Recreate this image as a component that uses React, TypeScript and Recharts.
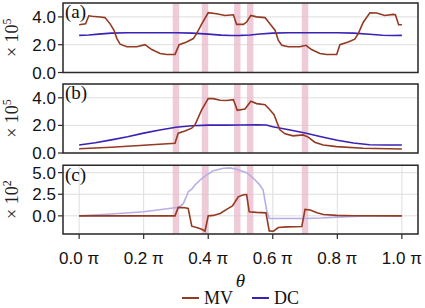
import { LineChart, Line, XAxis, YAxis, CartesianGrid, ReferenceArea, Legend } from "recharts";

// theta in units of pi
const xTicks = [0, 0.2, 0.4, 0.6, 0.8, 1.0];
const bandStarts = [0.29, 0.38, 0.48, 0.52, 0.69];
const bandEnds = [0.31, 0.4, 0.5, 0.54, 0.71];

// panel (a), x 10^5
const aMvTheta = [0, 0.02, 0.03, 0.04, 0.065, 0.08, 0.096, 0.108, 0.117, 0.127, 0.148, 0.179, 0.204, 0.225, 0.251, 0.272, 0.297, 0.31, 0.333, 0.354, 0.364, 0.38, 0.4, 0.426, 0.452, 0.478, 0.488, 0.509, 0.519, 0.532, 0.55, 0.576, 0.591, 0.607, 0.617, 0.628, 0.648, 0.684, 0.703, 0.72, 0.746, 0.767, 0.798, 0.808, 0.834, 0.854, 0.865, 0.88, 0.901, 0.922, 0.947, 0.973, 0.98, 0.99, 1.0];
const aMvValue = [3.44, 3.5, 4.08, 4.05, 3.99, 3.95, 3.5, 3.04, 2.44, 2.04, 1.85, 1.85, 2.0, 1.65, 1.37, 1.3, 1.3, 2.0, 2.2, 2.44, 2.8, 3.5, 4.3, 4.23, 4.1, 4.15, 3.46, 3.46, 3.63, 4.1, 4.0, 3.95, 3.5, 3.04, 2.32, 1.96, 1.85, 1.85, 1.96, 1.65, 1.37, 1.3, 1.3, 2.0, 2.2, 2.4, 2.8, 3.6, 4.3, 4.28, 4.1, 4.18, 4.15, 3.44, 3.44];
const aDcTheta = [0, 0.03, 0.06, 0.1, 0.15, 0.3, 0.35, 0.4, 0.44, 0.47, 0.5, 0.53, 0.56, 0.6, 0.65, 0.8, 0.85, 0.9, 0.94, 0.97, 1.0];
const aDcValue = [2.67, 2.7, 2.76, 2.83, 2.86, 2.86, 2.83, 2.76, 2.69, 2.66, 2.67, 2.7, 2.77, 2.83, 2.86, 2.86, 2.83, 2.75, 2.68, 2.66, 2.67];

// panel (b), x 10^5
const bMvTheta = [0, 0.1, 0.2, 0.297, 0.307, 0.328, 0.349, 0.359, 0.38, 0.4, 0.416, 0.437, 0.457, 0.478, 0.49, 0.514, 0.532, 0.55, 0.576, 0.591, 0.604, 0.612, 0.622, 0.638, 0.663, 0.694, 0.71, 0.73, 0.756, 0.798, 0.88, 1.0];
const bMvValue = [0.31, 0.42, 0.56, 0.71, 1.44, 1.6, 1.8, 2.04, 3.14, 3.94, 3.94, 3.82, 3.8, 3.87, 3.09, 3.19, 3.75, 3.58, 3.5, 3.14, 2.77, 2.28, 1.68, 1.39, 1.24, 1.31, 1.15, 0.78, 0.58, 0.46, 0.34, 0.29];
const bDcTheta = [0, 0.05, 0.1, 0.15, 0.2, 0.25, 0.3, 0.35, 0.4, 0.45, 0.5, 0.55, 0.58, 0.6, 0.65, 0.7, 0.75, 0.8, 0.85, 0.9, 0.95, 1.0];
const bDcValue = [0.58, 0.74, 0.95, 1.18, 1.44, 1.67, 1.87, 1.98, 2.02, 2.02, 2.03, 2.04, 2.03, 1.9, 1.68, 1.45, 1.18, 0.92, 0.73, 0.6, 0.58, 0.58];

// panel (c), x 10^2
const cMvTheta = [0, 0.297, 0.307, 0.328, 0.338, 0.349, 0.364, 0.38, 0.39, 0.4, 0.416, 0.437, 0.462, 0.475, 0.483, 0.493, 0.509, 0.519, 0.527, 0.55, 0.579, 0.589, 0.602, 0.617, 0.643, 0.69, 0.7, 0.716, 0.737, 0.757, 0.798, 0.85, 1.0];
const cMvValue = [0, 0, 0.98, 0.93, 0.85, -1.2, -1.35, -1.55, -1.78, 0, 0.05, 0.28, 0.86, 1.15, 1.6, 2.2, 2.44, 2.46, 0.47, 0.4, 0.35, -1.74, -1.78, -1.35, -1.28, -1.24, 0.74, 0.67, 0.35, 0.16, 0.05, 0.02, 0];
const cDcTheta = [0, 0.1, 0.2, 0.297, 0.31, 0.323, 0.333, 0.338, 0.349, 0.359, 0.375, 0.395, 0.416, 0.447, 0.468, 0.488, 0.519, 0.54, 0.56, 0.57, 0.581, 0.589, 0.65, 0.7, 0.75, 0.8, 0.85, 0.9, 1.0];
const cDcValue = [0, 0.22, 0.47, 0.93, 1.0, 1.44, 2.3, 2.8, 3.1, 3.57, 4.15, 4.73, 5.23, 5.5, 5.55, 5.4, 5.0, 4.35, 3.57, 3.0, 0.66, -0.3, -0.3, -0.3, -0.25, -0.15, -0.06, -0.02, 0];

const MV_COLOR = "#923a22";
const DC_COLOR = "#3a22b4";
const DC_LIGHT = "#b7ade6";
const BAND = "#e9b9cc";
const FRAME = "#2b2b2b";
const SANS = "Liberation Sans";
const SERIF = "Liberation Serif";

const toRows = (xs: number[], ys: number[]) => xs.map((x, i) => ({ x, y: ys[i] }));

const ExpLabel = ({ viewBox, exp }: any) => {
	const cx = 18;
	const cy = viewBox.y + viewBox.height / 2;
	return (
		<text
			transform={`translate(${cx},${cy}) rotate(-90)`}
			textAnchor="middle"
			fontFamily={SERIF}
			fontSize={18}
			fill="#222">
			<tspan>× 10</tspan>
			<tspan dy={-7} fontSize={12}>
				{exp}
			</tspan>
		</text>
	);
};

const ThetaLabel = ({ viewBox }: any) => (
	<text
		x={viewBox.x + viewBox.width / 2}
		y={viewBox.y + 53}
		textAnchor="middle"
		fontFamily={SERIF}
		fontStyle="italic"
		fontSize={19}
		fill="#111">
		θ
	</text>
);

const LegendBox = () => (
	<div
		style={{
			height: 20,
			width: "100%",
			display: "flex",
			justifyContent: "center",
			alignItems: "center",
			paddingLeft: 56,
			boxSizing: "border-box",
			fontFamily: SERIF,
			fontSize: 18,
			lineHeight: "20px",
			color: "#111",
		}}>
		<span style={{ display: "inline-block", width: 17, height: 2, background: MV_COLOR, marginRight: 5 }} />
		<span style={{ marginRight: 19 }}>MV</span>
		<span style={{ display: "inline-block", width: 17, height: 2, background: DC_COLOR, marginRight: 5 }} />
		<span>DC</span>
	</div>
);

interface PanelProps {
	tag: string;
	exp: string;
	mv: { x: number; y: number }[];
	dc: { x: number; y: number }[];
	dcColor: string;
	yDomain: [number, number];
	yTicks: number[];
	height: number;
	margin: { top: number; right: number; bottom: number; left: number };
	bottomAxis?: boolean;
}

const Panel = ({ tag, exp, mv, dc, dcColor, yDomain, yTicks, height, margin, bottomAxis }: PanelProps) => (
	<LineChart width={425} height={height} margin={margin}>
		<CartesianGrid stroke="#dedede" strokeWidth={1} />
		<XAxis
			dataKey="x"
			type="number"
			domain={[-0.05, 1.05]}
			ticks={xTicks}
			interval={0}
			allowDataOverflow
			height={bottomAxis ? 54 : 0}
			tick={bottomAxis ? { fontSize: 17, fill: "#111", fontFamily: SANS } : false}
			tickLine={bottomAxis ? { stroke: FRAME, strokeWidth: 1.2 } : false}
			tickSize={5}
			tickMargin={13}
			axisLine={false}
			tickFormatter={(v: number) => `${v.toFixed(1)} π`}
			label={bottomAxis ? <ThetaLabel /> : undefined}
		/>
		<YAxis
			type="number"
			domain={yDomain}
			ticks={yTicks}
			interval={0}
			allowDataOverflow
			width={63}
			axisLine={false}
			tickLine={{ stroke: FRAME, strokeWidth: 1.2 }}
			tickSize={5}
			tickMargin={2}
			tick={{ fontSize: 17, fill: "#111", fontFamily: SANS }}
			tickFormatter={(v: number) => v.toFixed(1)}
			label={<ExpLabel exp={exp} />}
		/>
		{bandStarts.map((s, i) => (
			<ReferenceArea key={i} x1={s} x2={bandEnds[i]} fill={BAND} fillOpacity={0.75} stroke="none" />
		))}
		<Line data={dc} dataKey="y" type="linear" stroke={dcColor} strokeWidth={1.6} dot={false} isAnimationActive={false} />
		<Line data={mv} dataKey="y" type="linear" stroke={MV_COLOR} strokeWidth={1.6} dot={false} isAnimationActive={false} />
		<ReferenceArea
			x1={-0.05}
			x2={1.05}
			y1={yDomain[0]}
			y2={yDomain[1]}
			fill="none"
			stroke={FRAME}
			strokeWidth={1.5}
			label={{ value: tag, position: "insideTopLeft", offset: 2, fontSize: 19, fontFamily: SERIF, fill: "#111" }}
		/>
		{bottomAxis && <Legend verticalAlign="bottom" height={20} wrapperStyle={{ left: 0, width: 425 }} content={<LegendBox />} />}
	</LineChart>
);

export default function App() {
	return (
		<div style={{ position: "absolute", left: 0, top: 0, width: 425, height: 308, background: "#fff" }}>
			<div style={{ position: "absolute", left: 0, top: 0 }}>
				<Panel
					tag="(a)"
					exp="5"
					mv={toRows(aMvTheta, aMvValue)}
					dc={toRows(aDcTheta, aDcValue)}
					dcColor={DC_COLOR}
					yDomain={[0, 5]}
					yTicks={[0, 2, 4]}
					height={84}
					margin={{ top: 3, right: 7, bottom: 11.5, left: 0 }}
				/>
			</div>
			<div style={{ position: "absolute", left: 0, top: 80 }}>
				<Panel
					tag="(b)"
					exp="5"
					mv={toRows(bMvTheta, bMvValue)}
					dc={toRows(bDcTheta, bDcValue)}
					dcColor={DC_COLOR}
					yDomain={[0, 5]}
					yTicks={[0, 2, 4]}
					height={84}
					margin={{ top: 4, right: 7, bottom: 11, left: 0 }}
				/>
			</div>
			<div style={{ position: "absolute", left: 0, top: 160 }}>
				<Panel
					tag="(c)"
					exp="2"
					mv={toRows(cMvTheta, cMvValue)}
					dc={toRows(cDcTheta, cDcValue)}
					dcColor={DC_LIGHT}
					yDomain={[-2.1, 5.85]}
					yTicks={[0, 2.5, 5]}
					height={148}
					margin={{ top: 5.3, right: 7, bottom: 0, left: 0 }}
					bottomAxis
				/>
			</div>
		</div>
	);
}
